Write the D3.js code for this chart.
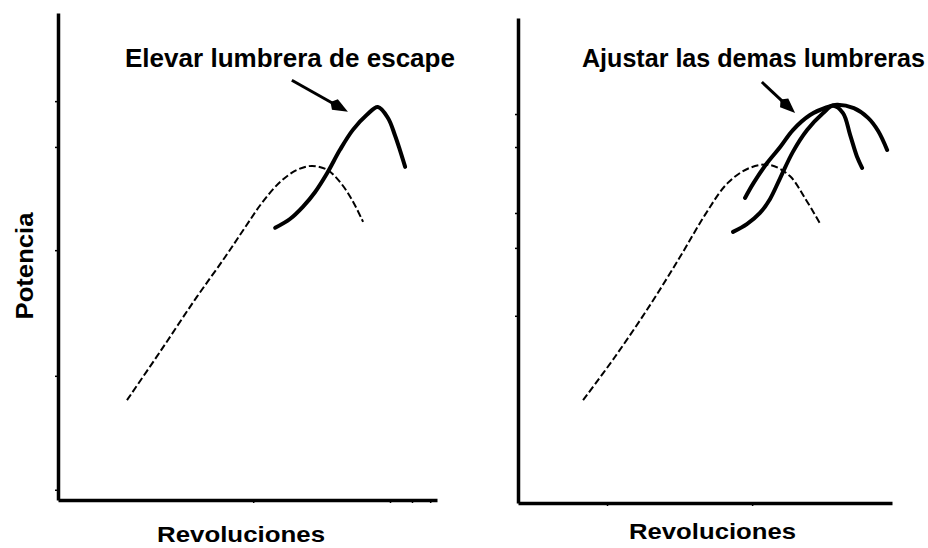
<!DOCTYPE html>
<html>
<head>
<meta charset="utf-8">
<script src="https://cdn.jsdelivr.net/npm/d3@7"></script>
<style>
  body { margin: 0; background: #fff; }
  .lbl { font-family: "Liberation Sans", Arial, sans-serif; font-weight: bold; fill: #000; }
</style>
</head>
<body>
<div id="potenciaChart"></div>
<script>
// curve points, x = revoluciones (0-100), y = potencia (0-100)
const leftBaseX  = [18.2, 26.9, 36.1, 44.1, 49.3, 53.8, 58.6, 63.1, 67.0, 71.0, 74.4, 77.6, 80.5];
const leftBaseY  = [20.5, 30.4, 41.1, 49.9, 55.9, 61.0, 65.3, 67.8, 68.6, 67.8, 65.3, 61.6, 57.1];
const leftEscX   = [57.3, 61.2, 64.6, 67.8, 71.0, 74.4, 77.8, 81.5, 84.4, 87.1, 88.9, 90.2, 91.6];
const leftEscY   = [55.9, 57.7, 60.2, 63.2, 67.1, 71.9, 76.0, 79.1, 80.7, 78.4, 74.9, 71.9, 68.4];

const rightBaseX = [17.4, 25.9, 35.3, 43.3, 50.0, 56.1, 62.0, 67.4, 72.7, 76.7, 80.7];
const rightBaseY = [21.2, 30.1, 40.8, 50.7, 59.4, 66.0, 69.1, 69.7, 67.4, 62.9, 57.7];
const rightAX    = [60.7, 63.0, 66.6, 70.1, 73.5, 78.1, 82.6, 85.3, 89.8, 93.6, 96.3, 98.7];
const rightAY    = [62.9, 66.0, 70.1, 73.4, 76.9, 80.0, 81.6, 82.1, 81.4, 79.4, 76.7, 72.8];
const rightBX    = [57.5, 61.2, 64.7, 67.4, 70.1, 73.5, 77.3, 81.6, 84.2, 86.9, 88.8, 90.6, 92.0];
const rightBY    = [55.9, 57.5, 59.8, 62.7, 67.0, 72.4, 76.9, 80.4, 81.9, 80.4, 75.9, 71.5, 69.1];

// arrows [x1, y1, x2, y2]
const leftArrow  = [61.7, 86.2, 76.5, 79.7];
const rightArrow = [65.2, 86.8, 74.1, 80.4];

// tick positions (unlabelled)
const leftTicksY  = [2.1, 25.5, 51.3, 72.5, 81.9];
const leftTicksX  = [51.5, 87.6, 93.4, 98.2];
const rightTicksY = [38.6, 52.6, 59.8, 73.4, 80.2];
const rightTicksX = [23.8, 62.6];

const titles = ["Elevar lumbrera de escape", "Ajustar las demas lumbreras"];
const xTitle = "Revoluciones";
const yTitle = "Potencia";

var width = 928, height = 548;
const svg = d3.select("#potenciaChart")
    .append("svg")
    .attr("width", width)
    .attr("height", height);

const zip = (xs, ys) => xs.map((x, i) => [x, ys[i]]);

const panels = [
  { x0: 58, x1: 437, y0: 500, y1: 13, base: zip(leftBaseX, leftBaseY),
    bold: [zip(leftEscX, leftEscY)], arrow: leftArrow,
    ticksX: leftTicksX, ticksY: leftTicksY,
    title: { x: 125, y: 67, len: 330 }, xlab: { x: 157, y: 542, len: 168 } },
  { x0: 518, x1: 892, y0: 503, y1: 18, base: zip(rightBaseX, rightBaseY),
    bold: [zip(rightAX, rightAY), zip(rightBX, rightBY)], arrow: rightArrow,
    ticksX: rightTicksX, ticksY: rightTicksY,
    title: { x: 582, y: 67, len: 343 }, xlab: { x: 629, y: 539, len: 167 } }
];

panels.forEach((p, k) => {
    const x = d3.scaleLinear().domain([0, 100]).range([p.x0, p.x1]);
    const y = d3.scaleLinear().domain([0, 100]).range([p.y0, p.y1]);
    const g = svg.append("g");

    const line = d3.line()
        .x(d => x(d[0]))
        .y(d => y(d[1]))
        .curve(d3.curveCatmullRom.alpha(0.5));

    // axes, thick domain line and tiny ticks
    g.append("g")
        .attr("transform", "translate(" + p.x0 + ",0)")
        .call(d3.axisLeft(y).tickValues(p.ticksY).tickSize(3).tickSizeOuter(0).tickFormat(""));
    g.append("g")
        .attr("transform", "translate(0," + p.y0 + ")")
        .call(d3.axisBottom(x).tickValues(p.ticksX).tickSize(3).tickSizeOuter(0).tickFormat(""));
    g.selectAll(".domain").attr("stroke", "#000").attr("stroke-width", 3.5);
    g.selectAll(".tick line").attr("stroke", "#000").attr("stroke-width", 1.5);

    // original power curve, thin dashed
    g.append("path")
        .datum(p.base)
        .attr("d", line)
        .attr("fill", "none")
        .attr("stroke", "#000")
        .attr("stroke-width", 2)
        .attr("stroke-dasharray", "7,3");

    // modified curves, bold
    p.bold.forEach(c => {
        g.append("path")
            .datum(c)
            .attr("d", line)
            .attr("fill", "none")
            .attr("stroke", "#000")
            .attr("stroke-width", 4)
            .attr("stroke-linecap", "round")
            .attr("stroke-linejoin", "round");
    });

    // arrow
    var a = p.arrow;
    var ax1 = x(a[0]), ay1 = y(a[1]), ax2 = x(a[2]), ay2 = y(a[3]);
    var ang = Math.atan2(ay2 - ay1, ax2 - ax1);
    var c = Math.cos(ang), s = Math.sin(ang);
    var hl = 18, hw = 6;
    var bx = ax2 - hl * c, by = ay2 - hl * s;
    g.append("line")
        .attr("x1", ax1).attr("y1", ay1)
        .attr("x2", bx).attr("y2", by)
        .attr("stroke", "#000")
        .attr("stroke-width", 3);
    g.append("path")
        .attr("d", "M" + ax2 + "," + ay2 +
            "L" + (bx + hw * s + 3 * c) + "," + (by - hw * c + 3 * s) +
            "L" + (bx - 2 * c) + "," + (by - 2 * s) +
            "L" + (bx - hw * s + 3 * c) + "," + (by + hw * c + 3 * s) + "Z")
        .attr("fill", "#000");

    // texts
    g.append("text")
        .attr("class", "lbl")
        .attr("x", p.title.x)
        .attr("y", p.title.y)
        .attr("font-size", "25px")
        .attr("textLength", p.title.len)
        .attr("lengthAdjust", "spacingAndGlyphs")
        .text(titles[k]);

    g.append("text")
        .attr("class", "lbl")
        .attr("x", p.xlab.x)
        .attr("y", p.xlab.y)
        .attr("font-size", "22px")
        .attr("textLength", p.xlab.len)
        .attr("lengthAdjust", "spacingAndGlyphs")
        .text(xTitle);
});

svg.append("text")
    .attr("class", "lbl")
    .attr("transform", "translate(33,266) rotate(-90)")
    .attr("text-anchor", "middle")
    .attr("font-size", "24px")
    .attr("textLength", 107)
    .attr("lengthAdjust", "spacingAndGlyphs")
    .text(yTitle);
</script>
</body>
</html>
